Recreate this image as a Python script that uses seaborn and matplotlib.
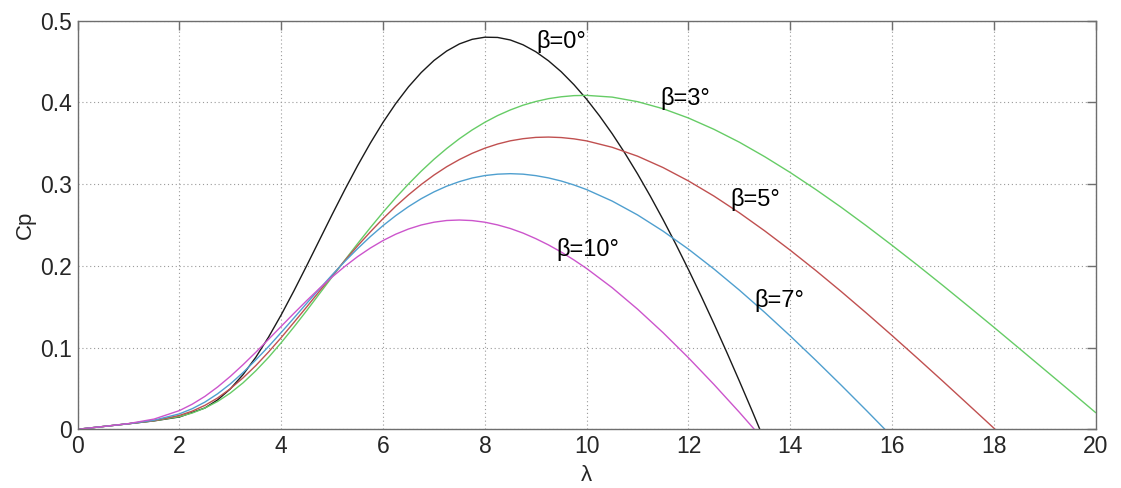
import numpy as np
import pandas as pd
import matplotlib
matplotlib.use("Agg")
import matplotlib.pyplot as plt
import seaborn as sns

# ======================================================
#   Data: Cp vs tip speed ratio, one series per pitch angle
# ======================================================

# sample points: finer step where the curves bend most
lam = np.concatenate([np.arange(0, 2, 0.5), np.arange(2, 10, 0.25), np.arange(10, 20.5, 0.5)])
lam_b0 = np.concatenate([np.arange(0, 2.5, 0.5), np.arange(2.5, 13.75, 0.25)])

cp_b0 = [0, 0.0034, 0.0068, 0.0103, 0.0151,
         0.0261, 0.0360, 0.0495, 0.0670, 0.0882, 0.1128, 0.1402, 0.1696, 0.2003, 0.2316,
         0.2629, 0.2934, 0.3227, 0.3502, 0.3757, 0.3987, 0.4191, 0.4366, 0.4513, 0.4629,
         0.4716, 0.4772, 0.4798, 0.4795, 0.4764, 0.4705, 0.4620, 0.4509, 0.4375, 0.4217,
         0.4038, 0.3837, 0.3618, 0.3380, 0.3125, 0.2853, 0.2567, 0.2267, 0.1954, 0.1629,
         0.1293, 0.0946, 0.0590, 0.0226, -0.0147]

cp_b3 = [0, 0.0034, 0.0068, 0.0104,
         0.0156, 0.0199, 0.0260, 0.0341, 0.0444, 0.0569, 0.0716, 0.0880, 0.1061, 0.1253,
         0.1453, 0.1659, 0.1865, 0.2071, 0.2272, 0.2468, 0.2656, 0.2834, 0.3002, 0.3159,
         0.3304, 0.3436, 0.3556, 0.3663, 0.3757, 0.3839, 0.3908, 0.3966, 0.4011, 0.4046,
         0.4069, 0.4083,
         0.4086, 0.4065, 0.4009, 0.3923, 0.3809, 0.3671, 0.3513, 0.3335, 0.3142, 0.2935,
         0.2717, 0.2488, 0.2251, 0.2008, 0.1759, 0.1505, 0.1249, 0.0989, 0.0728, 0.0467,
         0.0204]

cp_b5 = [0, 0.0034, 0.0068, 0.0106,
         0.0170, 0.0222, 0.0293, 0.0384, 0.0497, 0.0630, 0.0780, 0.0946, 0.1123, 0.1309,
         0.1498, 0.1690, 0.1880, 0.2066, 0.2245, 0.2416, 0.2578, 0.2730, 0.2869, 0.2996,
         0.3111, 0.3213, 0.3301, 0.3377, 0.3440, 0.3491, 0.3530, 0.3556, 0.3572, 0.3576,
         0.3570, 0.3554,
         0.3529, 0.3451, 0.3342, 0.3203, 0.3039, 0.2854, 0.2649, 0.2427, 0.2191, 0.1944,
         0.1686, 0.1420, 0.1147, 0.0869, 0.0587, 0.0301, 0.0014, -0.0276]

cp_b7 = [0, 0.0034, 0.0068, 0.0111,
         0.0189, 0.0252, 0.0333, 0.0435, 0.0556, 0.0695, 0.0849, 0.1013, 0.1186, 0.1363,
         0.1542, 0.1718, 0.1890, 0.2055, 0.2211, 0.2358, 0.2493, 0.2615, 0.2725, 0.2822,
         0.2905, 0.2975, 0.3031, 0.3075, 0.3105, 0.3122, 0.3128, 0.3122, 0.3104, 0.3076,
         0.3038, 0.2990,
         0.2933, 0.2793, 0.2623, 0.2425, 0.2204, 0.1962, 0.1703, 0.1429, 0.1142, 0.0845,
         0.0540, 0.0228, -0.0090]

cp_b10 = [0, 0.0034, 0.0070, 0.0125,
          0.0229, 0.0307, 0.0403, 0.0518, 0.0648, 0.0791, 0.0943, 0.1101, 0.1261, 0.1420,
          0.1575, 0.1724, 0.1864, 0.1994, 0.2113, 0.2218, 0.2310, 0.2388, 0.2451, 0.2500,
          0.2534, 0.2555, 0.2561, 0.2554, 0.2534, 0.2501, 0.2457, 0.2401, 0.2333, 0.2256,
          0.2169, 0.2072,
          0.1967, 0.1733, 0.1470, 0.1183, 0.0875, 0.0549, 0.0208, -0.0146]

betas = ["β=0°", "β=3°", "β=5°", "β=7°", "β=10°"]
series = [cp_b0, cp_b3, cp_b5, cp_b7, cp_b10]
xs = [lam_b0, lam, lam, lam, lam]
colors = ["#1a1a1a", "#66cc66", "#c05050", "#4f9fcf", "#cc55cc"]

# label anchor points (lambda, Cp)
label_x = [9.01, 11.44, 12.82, 13.29, 9.41]
label_y = [0.475, 0.405, 0.281, 0.157, 0.2195]

# long table for seaborn
rows = []
for name, xv, cp in zip(betas, xs, series):
    for x, y in zip(xv[:len(cp)], cp):
        rows.append([name, x, y])
df = pd.DataFrame(rows, columns=["beta", "lam", "cp"])

# ======================================================
#   Plot
# ======================================================

sns.set_style("white")
plt.rcParams["font.family"] = ["Liberation Sans", "DejaVu Sans"]

fig = plt.figure(figsize=(11.21, 4.88), dpi=100)
ax = fig.add_axes([0.0693, 0.1203, 0.9081, 0.8373])

sns.lineplot(data=df, x="lam", y="cp", hue="beta", palette=colors,
             estimator=None, sort=False, legend=False, linewidth=1.0, ax=ax)

for name, x, y in zip(betas, label_x, label_y):
    ax.text(x, y, name, fontsize=17, ha="left", va="center", color="black")

ax.set_xlim(0, 20)
ax.set_ylim(0, 0.5)
ax.set_xticks(np.arange(0, 21, 2))
ax.set_yticks([0, 0.1, 0.2, 0.3, 0.4, 0.5])
ax.set_yticklabels(["0", "0.1", "0.2", "0.3", "0.4", "0.5"])
ax.set_xlabel("λ", fontsize=16, labelpad=5)
ax.set_ylabel("Cp", fontsize=16, labelpad=3)

ax.grid(True, linestyle=(0, (1, 2.5)), color="#9a9a9a", linewidth=0.8)
ax.tick_params(direction="in", length=6.5, width=1.0, color="#6e6e6e",
               labelsize=16.5, top=True, right=True, pad=4)
for sp in ax.spines.values():
    sp.set_color("#6e6e6e")
    sp.set_linewidth(1.0)
    sp.set_visible(True)

fig.savefig("out.png", dpi=100, facecolor="white")
